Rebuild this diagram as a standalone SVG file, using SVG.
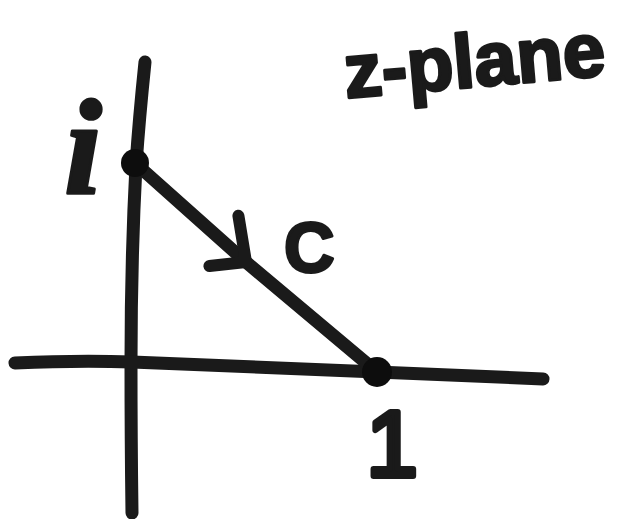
<svg xmlns="http://www.w3.org/2000/svg" width="622" height="519" viewBox="0 0 622 519">
  <style>
    .ink { fill: none; stroke: #1a1a1a; stroke-width: 13; stroke-linecap: round; stroke-linejoin: round; }
    .dot { fill: #0d0d0d; }
    .lbl { fill: #1a1a1a; stroke: #1a1a1a; stroke-linejoin: round; }
  </style>
  <defs>
    <marker id="chevron" markerUnits="userSpaceOnUse" orient="auto" refX="0" refY="0" markerWidth="80" markerHeight="80" viewBox="-50 -40 80 80" overflow="visible">
      <path d="M-36,-30 L0,0 L-25,27" fill="none" stroke="#1a1a1a" stroke-width="12" stroke-linecap="round" stroke-linejoin="round"/>
    </marker>
  </defs>
  <rect width="622" height="519" fill="#ffffff"/>

  <g id="axes">
    <path id="imag-axis" class="ink" d="M145,62 Q139,120 136,165 Q131,260 131,362 Q131,440 132,513"/>
    <path id="real-axis" class="ink" d="M15,363 Q80,360 132,362 L377,372 L543,379"/>
  </g>

  <g id="connectors">
    <path id="contour-C" class="ink" d="M135,163 L246,262 L377,372" marker-mid="url(#chevron)"/>
    <text id="label-C" class="lbl" x="284" y="272" font-family="Liberation Sans, Arial, sans-serif" font-weight="bold" font-size="70" stroke-width="3">C</text>
  </g>

  <g id="node-i">
    <circle class="dot" cx="135" cy="163" r="14"/>
    <text class="lbl" x="83" y="193" text-anchor="middle" font-family="Liberation Serif, Times New Roman, serif" font-style="italic" font-weight="bold" font-size="135" stroke-width="3">i</text>
  </g>

  <g id="node-1">
    <circle class="dot" cx="377" cy="372" r="15"/>
    <text class="lbl" x="392" y="476" text-anchor="middle" font-family="Liberation Sans, Arial, sans-serif" font-size="92" stroke-width="6">1</text>
  </g>

  <g id="title">
    <text class="lbl" x="346" y="98" transform="rotate(-5 346 98)" font-family="Liberation Sans, Arial, sans-serif" font-weight="bold" font-size="76" stroke-width="3">z-plane</text>
  </g>
</svg>
